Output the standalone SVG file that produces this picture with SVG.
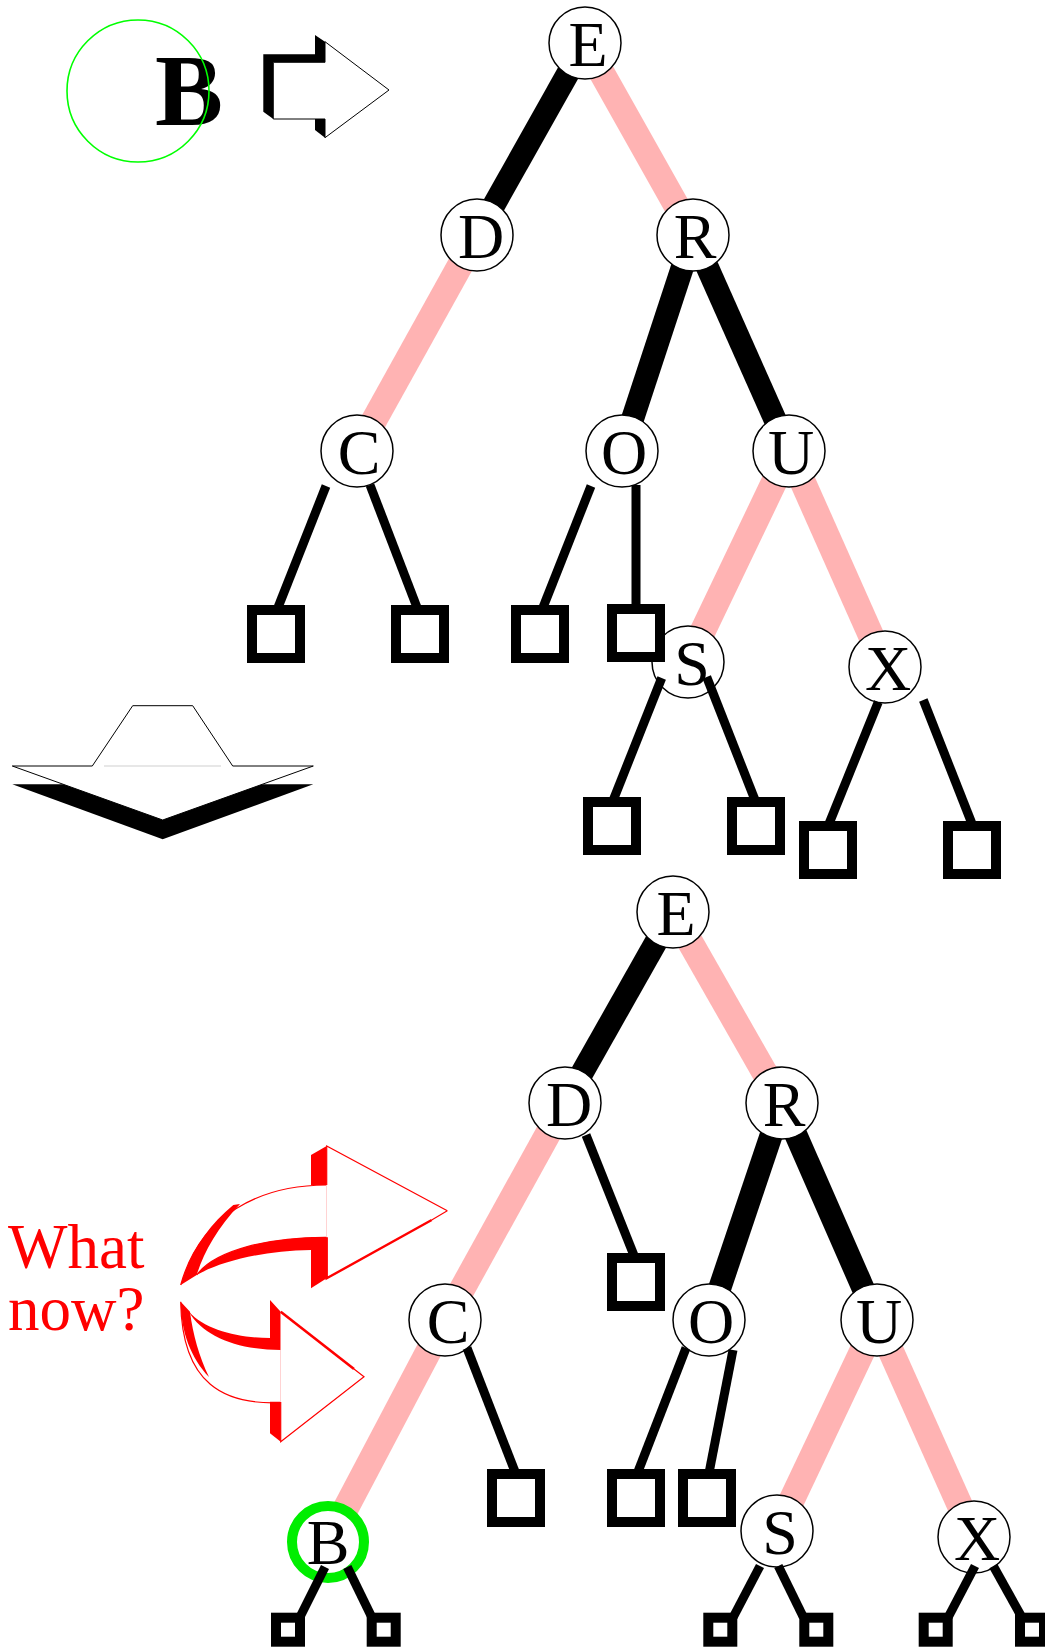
<svg xmlns="http://www.w3.org/2000/svg" width="1045" height="1649" viewBox="0 0 1045 1649">
  <style>
    .nd circle { fill: #fff; stroke: #000; stroke-width: 1.5; }
    .nd text { font-family: "Liberation Serif", "Times New Roman", serif; font-size: 64px; text-anchor: middle; fill: #000; }
    .blk { stroke: #000; stroke-width: 23; fill: none; }
    .red { stroke: #FFB3B3; stroke-width: 26; fill: none; }
    .lf { stroke: #000; stroke-width: 9; fill: none; }
    .sq { fill: #fff; stroke: #000; stroke-width: 10; }
    .rarrow { fill: #ff0000; stroke: none; }
    .redline { fill: none; stroke: #ff0000; stroke-width: 1.2; }
  </style>

  <rect x="0" y="0" width="1045" height="1649" fill="#fff"/>

  <!-- key being inserted -->
  <g id="insert-key">
    <text x="155" y="125" font-family="'Liberation Serif', 'Times New Roman', serif" font-weight="bold" font-size="102">B</text>
    <circle cx="138" cy="91" r="71" fill="none" stroke="#00ff00" stroke-width="1.6"/>
  </g>

  <!-- 3D block arrow pointing right -->
  <g id="arrow-right">
    <polygon points="263.3,111.7 263.3,54.3 315,54.3 315,35 325,41.7 325,62.3 273.3,62.3 273.3,119" fill="#000"/>
    <polygon points="315,119 325,119 325,137.7 315,130" fill="#000"/>
    <polygon points="273.3,62.3 325,62.3 325,41.7 389,90 325,137.7 325,119 273.3,119" fill="#fff" stroke="#000" stroke-width="1"/>
  </g>

  <!-- 3D block arrow pointing down -->
  <g id="arrow-down">
    <polygon points="12.3,784.3 313.3,784.3 162.7,839.3" fill="#000"/>
    <polygon points="132.7,705.7 192.7,705.7 232.7,766 313.3,766 162.7,820 12.3,766 92.3,766" fill="#fff" stroke="#000" stroke-width="1"/>
    <line x1="104" y1="766" x2="221" y2="766" stroke="#cfcfcf" stroke-width="1"/>
  </g>

  <!-- caption, two lines in one text block -->
  <g id="question">
    <text font-family="'Liberation Serif', 'Times New Roman', serif" font-size="63" fill="#ff0000"><tspan x="8" y="1268">What</tspan><tspan x="8" y="1330">now?</tspan></text>
  </g>

  <!-- curved 3D arrows -->
  <g id="curved-arrows">
    <!-- upper -->
    <polygon class="rarrow" points="311,1155 326.7,1146 326.7,1185 311,1185"/>
    <polygon class="rarrow" points="311,1237.3 326.7,1237.3 326.7,1278.3 311,1288.3"/>
    <path class="rarrow" d="M326.7,1237.3 C 270,1237 215,1250 196.7,1275 C 222,1261 262,1251 311,1250 L326.7,1250 Z"/>
    <path class="rarrow" d="M233.3,1205 C 208,1226 190,1252 180.7,1285 L196.7,1275 C 203,1254 217,1228 240,1204 Z"/>
    <path class="redline" d="M326.7,1185 C 260,1185 200,1215 180.7,1285"/>
    <path class="redline" d="M326.7,1237.3 C 270,1237 215,1250 196.7,1275"/>
    <line x1="326.7" y1="1185" x2="326.7" y2="1237.3" stroke="#ffb0b0" stroke-width="1"/>
    <polygon points="326.7,1146 447.3,1210.7 326.7,1278.3" fill="#fff" stroke="none"/>
    <polyline class="redline" points="326.7,1185 326.7,1146 447.3,1210.7"/>
    <polyline fill="none" stroke="#ff0000" stroke-width="2.4" points="431.7,1220 326.7,1278.3 326.7,1237.3"/>
    <line x1="447.3" y1="1210.7" x2="431.7" y2="1220" stroke="#ff0000" stroke-width="1.2"/>
    <!-- lower -->
    <path class="rarrow" d="M270,1300 L280.7,1311.7 L280.7,1350 C 240,1350 203,1337 189,1311.7 C 205,1330 240,1338 270,1338 Z"/>
    <polygon class="rarrow" points="270,1401.7 280.7,1401.7 280.7,1441.7 270,1433.3"/>
    <path class="rarrow" d="M180.7,1301.7 C 181,1332 191,1358 209,1377 C 199,1356 193,1335 190,1311.7 Z"/>
    <path class="redline" d="M280.7,1402.7 C 225,1405 182,1385 180.7,1301.7"/>
    <line x1="280.7" y1="1350" x2="280.7" y2="1402" stroke="#ffb0b0" stroke-width="1"/>
    <polygon points="280.7,1311.7 364,1376.7 280.7,1441.7" fill="#fff" stroke="none"/>
    <line x1="280.7" y1="1311.7" x2="354" y2="1369" stroke="#ff0000" stroke-width="2.6"/>
    <polyline class="redline" points="354,1369 364,1376.7 280.7,1441.7 280.7,1402"/>
  </g>

  <!-- tree edges between internal nodes -->
  <g id="connectors">
    <line class="blk" x1="585" y1="43" x2="477" y2="235"/>
    <line class="red" x1="585" y1="43" x2="693" y2="235"/>
    <line class="red" x1="477" y1="235" x2="357" y2="451"/>
    <line class="blk" x1="693" y1="235" x2="622" y2="451"/>
    <line class="blk" x1="693" y1="235" x2="789" y2="451"/>
    <line class="red" x1="789" y1="451" x2="688" y2="662"/>
    <line class="red" x1="789" y1="451" x2="885" y2="667"/>

    <line class="blk" x1="673" y1="912" x2="565" y2="1103"/>
    <line class="red" x1="673" y1="912" x2="782" y2="1103"/>
    <line class="red" x1="565" y1="1103" x2="445" y2="1320"/>
    <line class="red" x1="445" y1="1320" x2="328" y2="1542"/>
    <line class="blk" x1="782" y1="1103" x2="709" y2="1320"/>
    <line class="blk" x1="782" y1="1103" x2="877" y2="1320"/>
    <line class="red" x1="877" y1="1320" x2="777" y2="1531"/>
    <line class="red" x1="877" y1="1320" x2="974" y2="1537"/>
  </g>

  <!-- upper tree nodes -->
  <g id="t1-E" class="nd"><circle cx="585" cy="43" r="36"/><text x="588" y="66">E</text></g>
  <g id="t1-D" class="nd"><circle cx="477" cy="235" r="36"/><text x="481" y="258">D</text></g>
  <g id="t1-R" class="nd"><circle cx="693" cy="235" r="36"/><text x="695" y="258">R</text></g>
  <g id="t1-C" class="nd"><circle cx="357" cy="451" r="36"/><text x="359" y="474">C</text></g>
  <g id="t1-O" class="nd"><circle cx="622" cy="451" r="36"/><text x="624" y="474">O</text></g>
  <g id="t1-U" class="nd"><circle cx="789" cy="451" r="36"/><text x="791" y="474">U</text></g>
  <g id="t1-S" class="nd"><circle cx="688" cy="662" r="36"/><text x="692" y="685">S</text></g>
  <g id="t1-X" class="nd"><circle cx="885" cy="667" r="36"/><text x="888" y="690">X</text></g>

  <!-- lower tree nodes -->
  <g id="t2-E" class="nd"><circle cx="673" cy="912" r="36"/><text x="676" y="935">E</text></g>
  <g id="t2-D" class="nd"><circle cx="565" cy="1103" r="36"/><text x="569" y="1126">D</text></g>
  <g id="t2-R" class="nd"><circle cx="782" cy="1103" r="36"/><text x="784" y="1126">R</text></g>
  <g id="t2-C" class="nd"><circle cx="445" cy="1320" r="36"/><text x="448" y="1343">C</text></g>
  <g id="t2-O" class="nd"><circle cx="709" cy="1320" r="36"/><text x="711" y="1343">O</text></g>
  <g id="t2-U" class="nd"><circle cx="877" cy="1320" r="36"/><text x="879" y="1343">U</text></g>
  <g id="t2-S" class="nd"><circle cx="777" cy="1531" r="36"/><text x="780" y="1554">S</text></g>
  <g id="t2-X" class="nd"><circle cx="974" cy="1537" r="36"/><text x="977" y="1560">X</text></g>
  <g id="t2-B" class="nd"><circle cx="328" cy="1542" r="36" style="stroke:#00ee00;stroke-width:10"/><text x="328" y="1564">B</text></g>

  <!-- links to external (null) nodes -->
  <g id="leaf-connectors">
    <line class="lf" x1="326" y1="486" x2="277" y2="610"/>
    <line class="lf" x1="370" y1="485" x2="418" y2="610"/>
    <line class="lf" x1="591" y1="486" x2="542" y2="610"/>
    <line class="lf" x1="636" y1="485" x2="636" y2="610"/>
    <line class="lf" x1="661.7" y1="678" x2="613.3" y2="800"/>
    <line class="lf" x1="706.7" y1="677" x2="755" y2="800"/>
    <line class="lf" x1="878.3" y1="702" x2="829.3" y2="823"/>
    <line class="lf" x1="923.3" y1="700" x2="971.7" y2="823"/>

    <line class="lf" x1="586" y1="1135" x2="635" y2="1258"/>
    <line class="lf" x1="467" y1="1348" x2="515.5" y2="1473"/>
    <line class="lf" x1="686" y1="1348" x2="637.5" y2="1473"/>
    <line class="lf" x1="733" y1="1350" x2="709" y2="1473"/>
    <line class="lf" x1="325" y1="1567" x2="300" y2="1617"/>
    <line class="lf" x1="347.3" y1="1567" x2="371.7" y2="1617"/>
    <line class="lf" x1="760" y1="1566" x2="733.3" y2="1617"/>
    <line class="lf" x1="778.3" y1="1566" x2="803.3" y2="1617"/>
    <line class="lf" x1="975" y1="1566" x2="948.3" y2="1617"/>
    <line class="lf" x1="993.3" y1="1566" x2="1021.7" y2="1617"/>
  </g>

  <!-- external nodes, upper tree -->
  <g id="t1-leaf-1"><rect class="sq" x="252" y="610" width="48" height="48"/></g>
  <g id="t1-leaf-2"><rect class="sq" x="396" y="610" width="48" height="48"/></g>
  <g id="t1-leaf-3"><rect class="sq" x="516" y="610" width="48" height="48"/></g>
  <g id="t1-leaf-4"><rect class="sq" x="612" y="609" width="48" height="48"/></g>
  <g id="t1-leaf-5"><rect class="sq" x="588" y="802" width="48" height="48"/></g>
  <g id="t1-leaf-6"><rect class="sq" x="732" y="802" width="48" height="48"/></g>
  <g id="t1-leaf-7"><rect class="sq" x="804" y="826" width="48" height="48"/></g>
  <g id="t1-leaf-8"><rect class="sq" x="948" y="826" width="48" height="48"/></g>

  <!-- external nodes, lower tree -->
  <g id="t2-leaf-1"><rect class="sq" x="612" y="1258" width="48" height="48"/></g>
  <g id="t2-leaf-2"><rect class="sq" x="492" y="1474" width="48" height="48"/></g>
  <g id="t2-leaf-3"><rect class="sq" x="612" y="1474" width="48" height="48"/></g>
  <g id="t2-leaf-4"><rect class="sq" x="683" y="1474" width="48" height="48"/></g>
  <g id="t2-leaf-5"><rect class="sq" x="276" y="1617.7" width="24" height="24"/></g>
  <g id="t2-leaf-6"><rect class="sq" x="371.7" y="1617.7" width="24" height="24"/></g>
  <g id="t2-leaf-7"><rect class="sq" x="708.3" y="1617.7" width="24" height="24"/></g>
  <g id="t2-leaf-8"><rect class="sq" x="804.3" y="1617.7" width="24" height="24"/></g>
  <g id="t2-leaf-9"><rect class="sq" x="923.7" y="1617.7" width="24" height="24"/></g>
  <g id="t2-leaf-10"><rect class="sq" x="1020" y="1617.7" width="24" height="24"/></g>
</svg>
